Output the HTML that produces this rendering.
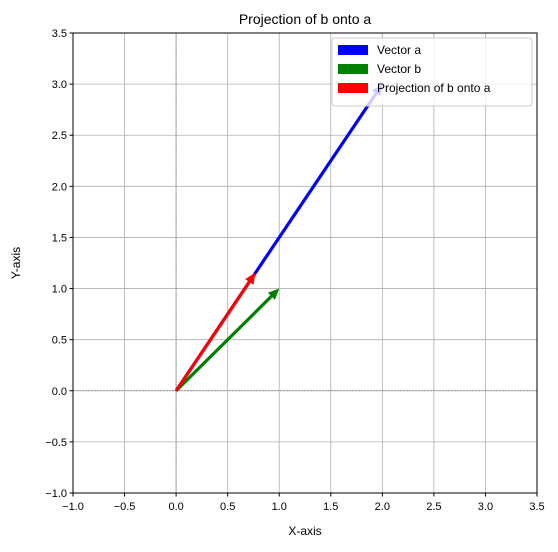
<!DOCTYPE html>
<html><head><meta charset="utf-8"><style>
body{margin:0;background:#fff;font-family:"Liberation Sans","DejaVu Sans",sans-serif;}
</style></head><body>
<svg id="chart" width="558" height="547" xmlns="http://www.w3.org/2000/svg" font-family="Liberation Sans, DejaVu Sans, sans-serif">
<rect width="558" height="547" fill="#fff"/>
<g id="grid"></g>
<g id="marks"></g>
<rect x="73" y="33" width="464" height="460" fill="none" stroke="#000" stroke-width="1"/>
<g id="ticks"></g>
<text x="305" y="24" text-anchor="middle" font-size="14">Projection of b onto a</text>
<text x="305" y="535" text-anchor="middle" font-size="12">X-axis</text>
<text transform="translate(20,263) rotate(-90)" text-anchor="middle" font-size="12">Y-axis</text>
<g id="legend"></g>
</svg>
<script>
const xTicks=[-1,-0.5,0,0.5,1,1.5,2,2.5,3,3.5];
const yTicks=[-1,-0.5,0,0.5,1,1.5,2,2.5,3,3.5];
const vecNames=["Vector a","Vector b","Projection of b onto a"];
const vecX=[2,1,0.769];
const vecY=[3,1,1.154];
const vecColors=["blue","green","red"];
const X0=73,X1=537,Y0=493,Y1=33,xmin=-1,xmax=3.5,ymin=-1,ymax=3.5;
const sx=v=>X0+(v-xmin)/(xmax-xmin)*(X1-X0);
const sy=v=>Y0-(v-ymin)/(ymax-ymin)*(Y0-Y1);
const NS="http://www.w3.org/2000/svg";
function mk(t,a,p){const e=document.createElementNS(NS,t);for(const k in a)e.setAttribute(k,a[k]);p.appendChild(e);return e;}
const grid=document.getElementById('grid'),ticks=document.getElementById('ticks'),marks=document.getElementById('marks'),leg=document.getElementById('legend');
xTicks.forEach(v=>{const x=sx(v);
 const g=mk('line',{x1:x,x2:x,y1:Y1,y2:Y0,stroke:'#b0b0b0','stroke-width':0.8},grid);
 
 mk('line',{x1:x,x2:x,y1:Y0,y2:Y0+3.5,stroke:'#000'},ticks);
 const t=mk('text',{x:x,y:Y0+17,'text-anchor':'middle','font-size':11},ticks);t.textContent=v.toFixed(1).replace('-','−');
 });
yTicks.forEach(v=>{const y=sy(v);
 const g=mk('line',{x1:X0,x2:X1,y1:y,y2:y,stroke:'#b0b0b0','stroke-width':0.8},grid);
 
 mk('line',{x1:X0-3.5,x2:X0,y1:y,y2:y,stroke:'#000'},ticks);
 const t=mk('text',{x:X0-6,y:y+4,'text-anchor':'end','font-size':11},ticks);t.textContent=v.toFixed(1).replace('-','−');
 });
const ax=mk('line',{x1:X0,x2:X1,y1:sy(0),y2:sy(0),stroke:'#808080','stroke-width':0.8,'stroke-dasharray':'2,1'},grid);

const ay=mk('line',{x1:sx(0),x2:sx(0),y1:Y1,y2:Y0,stroke:'#808080','stroke-width':0.8,'stroke-dasharray':'2,1'},grid);

vecX.forEach((vx,i)=>{
 const x0=sx(0),y0=sy(0),x1=sx(vx),y1=sy(vecY[i]);
 const dx=x1-x0,dy=y1-y0,L=Math.hypot(dx,dy),ux=dx/L,uy=dy/L,nx=-uy,ny=ux;
 const w=1.6,hl=11,hw=5;
 const bx=x1-ux*hl,by=y1-uy*hl;
 const pts=[[x0+nx*w,y0+ny*w],[bx+nx*w,by+ny*w],[bx+nx*hw,by+ny*hw],[x1,y1],[bx-nx*hw,by-ny*hw],[bx-nx*w,by-ny*w],[x0-nx*w,y0-ny*w]];
 const p=mk('polygon',{points:pts.map(q=>q.join(',')).join(' '),fill:vecColors[i]},marks);
 
});
const lb=mk('rect',{x:332,y:38,width:200,height:68,rx:3,fill:'#fff','fill-opacity':0.8,stroke:'#ccc'},leg);
vecNames.forEach((n,i)=>{const y=50+i*19;
 const r=mk('rect',{x:338,y:y-5,width:30,height:10,fill:vecColors[i]},leg);
 
 const t=mk('text',{x:377,y:y+4,'font-size':12},leg);t.textContent=n;
 });
</script>
</body></html>
